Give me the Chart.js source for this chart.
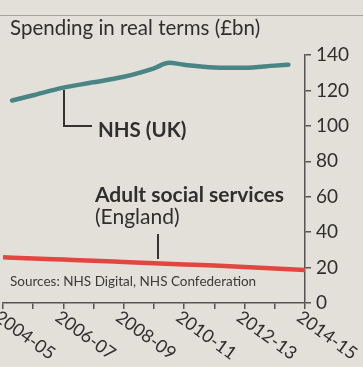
<!DOCTYPE html>
<html>
<head>
<meta charset="utf-8">
<script src="https://cdn.jsdelivr.net/npm/chart.js@4"></script>
<style>
  body { margin: 0; background: #e3e0d9; }
  #wrap { position: relative; width: 363px; height: 367px; overflow: hidden; font-family: Lato, sans-serif; color: #2f2f2f; }
  #wrap canvas { position: absolute; left: 0; top: 0; }
  .txt { position: absolute; white-space: nowrap; line-height: 1; }
  .rule { position: absolute; left: 0; top: 15px; width: 363px; height: 1px; background: #a5a29c; }
  .lead { position: absolute; border-color: #333; border-style: solid; border-width: 0; }
</style>
</head>
<body>
<div id="wrap">
  <canvas id="chart" width="363" height="367"></canvas>
  <div class="rule"></div>
  <div class="txt" style="left:10px; top:17px; font-size:20.5px;">Spending in real terms (£bn)</div>

  <!-- leader for NHS label -->
  <div class="lead" style="left:63px; top:90px; width:27px; height:35px; border-left-width:2px; border-bottom-width:2px;"></div>
  <div class="txt" style="left:98px; top:119px; font-size:20.5px; font-weight:700;">NHS (UK)</div>

  <div class="txt" style="left:95px; top:183px; font-size:21px; font-weight:700;">Adult social services</div>
  <div class="txt" style="left:95px; top:205px; font-size:21px;">(England)</div>
  <div class="lead" style="left:157px; top:234px; width:0; height:25px; border-left-width:2px;"></div>

  <div class="txt" style="left:10px; top:275px; font-size:13.5px; color:#3a3a3a;">Sources: NHS Digital, NHS Confederation</div>
</div>
<script>
// x positions are year indexes (0 = 2004-05)
const seasons = ['2004-05', '2005-06', '2006-07', '2007-08', '2008-09', '2009-10',
                 '2010-11', '2011-12', '2012-13', '2013-14', '2014-15'];
const nhsX = [0.3, 1, 2, 3, 4, 5, 5.5, 6, 7, 8, 9, 9.45];
const nhsSpend = [114.3, 117.3, 121.6, 124.6, 127.7, 132.5, 135.6, 134.5, 133, 132.8, 134, 134.5];
const socialSpend = [25.8, 25.1, 24.5, 23.9, 23.2, 22.5, 21.8, 21.1, 20.3, 19.5, 18.6];
const yTicks = [0, 20, 40, 60, 80, 100, 120, 140];

const axisGrey = '#555';

// clockwise-rotated season labels under every other tick
const seasonLabels = {
  id: 'seasonLabels',
  afterDraw(chart) {
    const ctx = chart.ctx;
    const xs = chart.scales.x;
    ctx.save();
    ctx.font = '18px Lato, sans-serif';
    ctx.fillStyle = '#2f2f2f';
    ctx.textAlign = 'left';
    ctx.textBaseline = 'middle';
    seasons.forEach((s, i) => {
      if (i % 2) return;
      const px = xs.getPixelForValue(i);
      ctx.save();
      ctx.translate(px - 6, xs.bottom + 6);
      ctx.rotate(36 * Math.PI / 180);
      ctx.fillText(s, 0, 0);
      ctx.restore();
    });
    ctx.restore();
  }
};

new Chart(document.getElementById('chart'), {
  type: 'line',
  data: {
    datasets: [
      {
        label: 'NHS (UK)',
        data: nhsX.map((x, i) => ({ x: x, y: nhsSpend[i] })),
        borderColor: '#4a8586',
        borderWidth: 4.5,
        borderCapStyle: 'round',
        pointRadius: 0,
        cubicInterpolationMode: 'monotone'
      },
      {
        label: 'Adult social services (England)',
        data: socialSpend.map((v, i) => ({ x: i, y: v })),
        borderColor: '#e2473f',
        borderWidth: 4.5,
        pointRadius: 0,
        cubicInterpolationMode: 'monotone'
      }
    ]
  },
  options: {
    responsive: false,
    animation: false,
    layout: { padding: { top: 55, left: 3, right: 0, bottom: 58 } },
    plugins: { legend: { display: false }, tooltip: { enabled: false } },
    scales: {
      x: {
        type: 'linear',
        min: 0,
        max: seasons.length - 1,
        ticks: { display: false, stepSize: 1 },
        grid: { drawOnChartArea: false, tickLength: 6, color: axisGrey, lineWidth: 1.5 },
        border: { color: axisGrey, width: 1.5 },
        afterFit: (scale) => { scale.height = 6; }
      },
      y: {
        position: 'right',
        min: 0,
        max: 140,
        afterBuildTicks: (scale) => { scale.ticks = yTicks.map(v => ({ value: v })); },
        ticks: { color: '#2f2f2f', font: { family: 'Lato', size: 19 }, padding: 5 },
        grid: { drawOnChartArea: false, tickLength: 6, color: axisGrey, lineWidth: 1.5 },
        border: { color: axisGrey, width: 1.5 },
        afterFit: (scale) => { scale.width = 58; }
      }
    }
  },
  plugins: [seasonLabels]
});
</script>
</body>
</html>
